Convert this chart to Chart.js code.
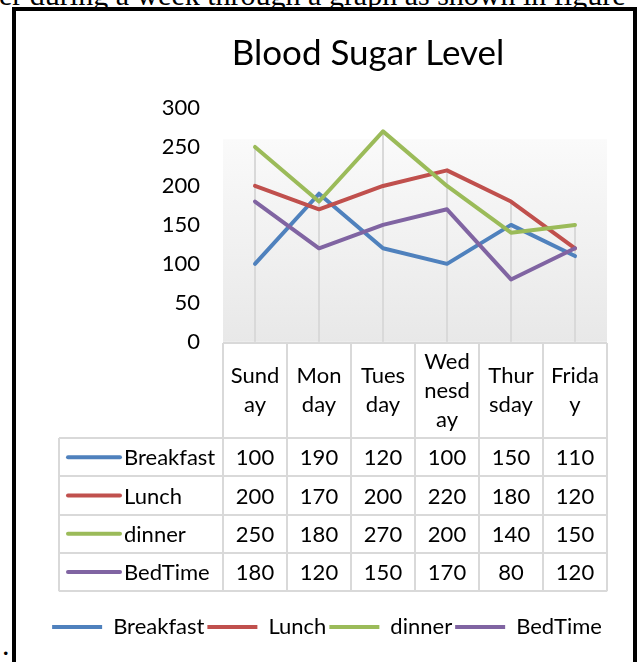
<!DOCTYPE html>
<html>
<head>
<meta charset="utf-8">
<script src="https://cdn.jsdelivr.net/npm/chart.js@4.4.1/dist/chart.umd.min.js"></script>
<style>
  html, body { margin: 0; padding: 0; background: #fff; overflow: hidden; }
  body { position: relative; width: 639px; height: 662px; }
  #docline { position: absolute; left: -1px; top: -20px; font: 30px/30px "Liberation Serif", serif; white-space: nowrap; color: #000; }
  #frame { position: absolute; left: 12px; top: 7px; width: 625px; height: 720px; border: 4px solid #000; box-sizing: border-box; }
  #dot { position: absolute; left: 2px; top: 630px; font: 30px/30px "Liberation Serif", serif; }
  #title { position: absolute; left: 0; top: 30px; width: 736px; text-align: center; font: 35px/42px Lato, sans-serif; color: #000; }
  #wrap { position: absolute; left: 0; top: 0; width: 639px; height: 662px; }
</style>
</head>
<body>
<div id="docline">er during a week through a graph as shown in figure</div>
<div id="frame"></div>
<div id="dot">.</div>
<div id="wrap"><canvas id="chart" width="639" height="662"></canvas></div>
<div id="title">Blood Sugar Level</div>
<script>
var categories = ['Sunday', 'Monday', 'Tuesday', 'Wednesday', 'Thursday', 'Friday'];
var dayTickLabels = [['Sund', 'ay'], ['Mon', 'day'], ['Tues', 'day'], ['Wed', 'nesd', 'ay'], ['Thur', 'sday'], ['Frida', 'y']];
var seriesNames = ['Breakfast', 'Lunch', 'dinner', 'BedTime'];
var breakfast = [100, 190, 120, 100, 150, 110];
var lunch = [200, 170, 200, 220, 180, 120];
var dinner = [250, 180, 270, 200, 140, 150];
var bedTime = [180, 120, 150, 170, 80, 120];
var yMin = 0, yMax = 300, yStep = 50;

var seriesColors = ['#4F81BD', '#C0504D', '#9BBB59', '#8064A2'];
var gridColor = '#d9d9d9';

// table geometry under the plot
var HEADER_H = 95;
var ROW_H = 38.3;
var LABEL_COL_W = 164;
var TABLE_GAP = 23;

Chart.defaults.font.family = 'Lato';
Chart.defaults.font.size = 22;
Chart.defaults.color = '#000';

function makeSet(ndx, name, vals) {
  return {
    label: name,
    data: vals,
    borderColor: seriesColors[ndx],
    backgroundColor: seriesColors[ndx],
    borderWidth: 4,
    borderCapStyle: 'round',
    borderJoinStyle: 'round',
    pointRadius: 0,
    pointHoverRadius: 0,
    tension: 0,
    order: 4 - ndx
  };
}

var datasets = [
  makeSet(0, seriesNames[0], breakfast),
  makeSet(1, seriesNames[1], lunch),
  makeSet(2, seriesNames[2], dinner),
  makeSet(3, seriesNames[3], bedTime)
];

// wall gradient + drop lines behind the series, data table under the plot
var dataTable = {
  id: 'dataTable',
  beforeDatasetsDraw: function(chart) {
    var ctx = chart.ctx, x = chart.scales.x, y = chart.scales.y, area = chart.chartArea;
    var wallTop = y.getPixelForValue(260);
    var g = ctx.createLinearGradient(0, wallTop, 0, area.bottom);
    g.addColorStop(0, '#fafafa');
    g.addColorStop(1, '#e8e8e8');
    ctx.save();
    ctx.fillStyle = g;
    ctx.fillRect(area.left, wallTop, area.right - area.left, area.bottom - wallTop);

    ctx.strokeStyle = gridColor;
    ctx.lineWidth = 2;
    categories.forEach(function(c, i) {
      var hi = Math.max.apply(null, chart.data.datasets.map(function(d) { return d.data[i]; }));
      var px = Math.round(x.getPixelForValue(i));
      ctx.beginPath();
      ctx.moveTo(px, y.getPixelForValue(hi));
      ctx.lineTo(px, area.bottom);
      ctx.stroke();
    });
    ctx.restore();
  },
  afterDraw: function(chart) {
    var ctx = chart.ctx, x = chart.scales.x, area = chart.chartArea;
    var left = area.left, right = area.right;
    var tLeft = left - LABEL_COL_W;
    var top = Math.round(x.top) + 1;
    var rowsTop = top + HEADER_H;
    var nRows = chart.data.datasets.length;
    var bottom = rowsTop + nRows * ROW_H;
    var colW = (right - left) / categories.length;

    ctx.save();
    ctx.strokeStyle = gridColor;
    ctx.lineWidth = 2;
    ctx.beginPath();
    ctx.moveTo(left, top); ctx.lineTo(right, top);
    for (var r = 0; r <= nRows; r++) {
      var ry = Math.round(rowsTop + r * ROW_H);
      ctx.moveTo(tLeft, ry); ctx.lineTo(right, ry);
    }
    for (var c = 0; c <= categories.length; c++) {
      var cx = Math.round(left + c * colW);
      ctx.moveTo(cx, top); ctx.lineTo(cx, bottom);
    }
    ctx.moveTo(tLeft, rowsTop); ctx.lineTo(tLeft, bottom);
    ctx.stroke();

    ctx.font = '22px Lato';
    ctx.textBaseline = 'middle';
    chart.data.datasets.forEach(function(ds, i) {
      var cy = rowsTop + (i + 0.5) * ROW_H;
      ctx.strokeStyle = ds.borderColor;
      ctx.lineWidth = 4;
      ctx.lineCap = 'round';
      ctx.beginPath();
      ctx.moveTo(tLeft + 9, cy); ctx.lineTo(tLeft + 61, cy);
      ctx.stroke();
      ctx.fillStyle = '#000';
      ctx.textAlign = 'left';
      ctx.fillText(ds.label, tLeft + 65, cy + 1);
      ctx.textAlign = 'center';
      ds.data.forEach(function(v, j) {
        ctx.fillText(String(v), x.getPixelForValue(j), cy + 1);
      });
    });
    ctx.restore();
  }
};

var ctx = document.getElementById('chart').getContext('2d');
var chart = new Chart(ctx, {
  type: 'line',
  data: { labels: categories, datasets: datasets },
  options: {
    responsive: false,
    animation: false,
    layout: { padding: { left: 47, right: 32, top: 108, bottom: 14 } },
    plugins: {
      title: { display: false },
      tooltip: { enabled: false },
      legend: {
        position: 'bottom',
        labels: {
          usePointStyle: true,
          pointStyle: 'line',
          pointStyleWidth: 50,
          padding: 3,
          font: { size: 22 },
          color: '#000',
          sort: function(a, b) { return a.datasetIndex - b.datasetIndex; }
        }
      }
    },
    scales: {
      x: {
        offset: true,
        grid: { display: false },
        border: { display: false },
        ticks: {
          autoSkip: false,
          maxRotation: 0,
          padding: 12,
          crossAlign: 'center',
          font: { size: 22, lineHeight: '29px' },
          callback: function(v, i) { return dayTickLabels[i]; }
        },
        afterFit: function(scale) { scale.height = HEADER_H + 4 * ROW_H + TABLE_GAP; }
      },
      y: {
        min: yMin,
        max: yMax,
        grid: { display: false, drawTicks: false },
        border: { display: false },
        ticks: { stepSize: yStep, padding: 23, font: { size: 22 } },
        afterFit: function(scale) { scale.width = 176; }
      }
    }
  },
  plugins: [dataTable]
});
</script>
</body>
</html>
